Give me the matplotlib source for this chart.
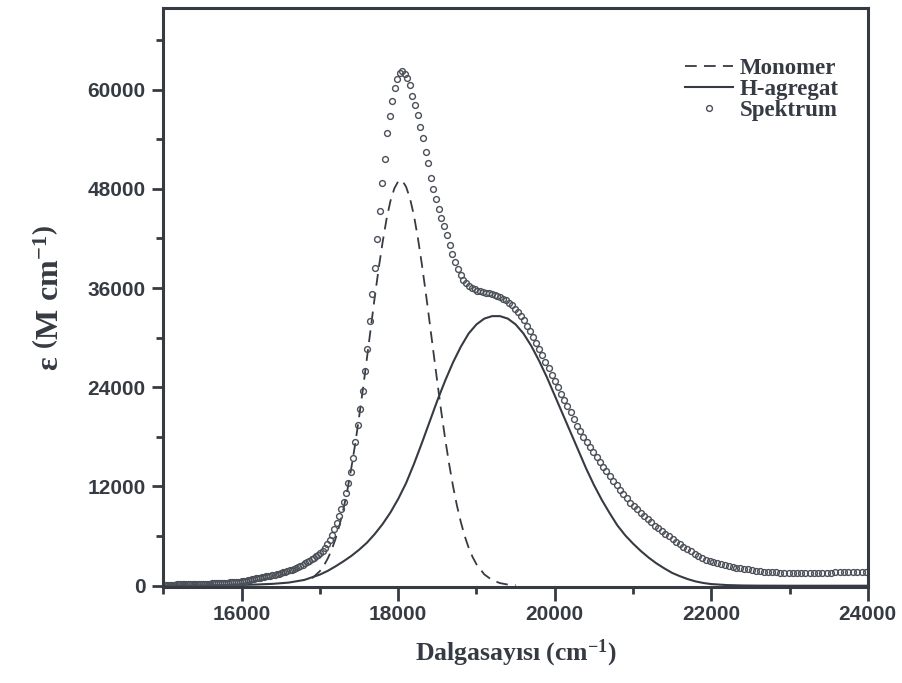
import numpy as np
import matplotlib.pyplot as plt
from matplotlib.ticker import MultipleLocator

# mathtext in bold serif so the axis labels look like the scan
plt.rcParams['mathtext.fontset'] = 'custom'
plt.rcParams['mathtext.rm'] = 'Liberation Serif:bold'
plt.rcParams['mathtext.it'] = 'Liberation Serif:bold'
plt.rcParams['mathtext.bf'] = 'Liberation Serif:bold'

# measured spectrum, 1 nm steps (417 .. 666 nm)
spektrum_nm = np.arange(417, 667)
spektrum_eps = [
    1700, 1680, 1665, 1650, 1640, 1625, 1610, 1600, 1590, 1575,   # 417
    1565, 1560, 1555, 1550, 1550, 1550, 1555, 1560, 1565, 1580,   # 427
    1595, 1610, 1640, 1670, 1710, 1760, 1840, 1900, 1970, 2050,   # 437
    2120, 2190, 2260, 2330, 2450, 2600, 2740, 2880, 3000, 3150,   # 447
    3380, 3620, 3880, 4150, 4450, 4730, 5010, 5340, 5670, 5990,   # 457
    6310, 6620, 6950, 7280, 7650, 8020, 8420, 8830, 9240, 9650,   # 467
    10060, 10550, 11080, 11600, 12120, 12690, 13250, 13820, 14340, 14940,  # 477
    15520, 16120, 16750, 17380, 18030, 18700, 19360, 20120, 20960, 21740,  # 487
    22500, 23240, 23990, 24700, 25500, 26300, 27080, 27870, 28660, 29380,  # 497
    30060, 30760, 31460, 32160, 32620, 33060, 33520, 33900, 34240, 34510,  # 507
    34720, 34920, 35050, 35190, 35310, 35370, 35420, 35480, 35580, 35670,  # 517
    35830, 36050, 36280, 36570, 37020, 37560, 38330, 39200, 40140, 41190,  # 527
    42400, 43510, 44480, 45520, 46810, 48030, 49340, 51120, 52420, 54080,  # 537
    55520, 56870, 58160, 59240, 60530, 61390, 61930, 62200, 61940, 61320,  # 547
    60200, 58600, 56800, 54700, 51650, 48700, 45270, 41900, 38400, 35300,  # 557
    32070, 28600, 26000, 23600, 21400, 19400, 17400, 15400, 13800, 12400,  # 567
    11200, 10100, 9290, 8450, 7640, 6890, 6150, 5550, 5000, 4560,   # 577
    4200, 3920, 3700, 3540, 3370, 3190, 3020, 2850, 2690, 2520,   # 587
    2350, 2250, 2150, 2060, 1960, 1870, 1780, 1690, 1600, 1510,   # 597
    1450, 1390, 1340, 1290, 1230, 1180, 1130, 1080, 1020, 970,    # 607
    930, 880, 830, 780, 730, 680, 630, 580, 520, 500,             # 617
    480, 455, 435, 420, 400, 385, 370, 350, 330, 320,             # 627
    305, 295, 285, 275, 265, 255, 245, 235, 225, 220,             # 637
    215, 210, 200, 195, 190, 185, 180, 175, 170, 165,             # 647
    160, 155, 150, 145, 140, 135, 130, 125, 122, 120,             # 657
]

# monomer band (dashed)
monomer_nu = [16900, 17000, 17050, 17100, 17150, 17200, 17250, 17300, 17350, 17400,
              17450, 17500, 17550, 17600, 17650, 17700, 17750, 17800, 17850, 17900,
              17950, 18000, 18050, 18100, 18150, 18200, 18250, 18300, 18350, 18400,
              18450, 18500, 18550, 18600, 18650, 18700, 18750, 18800, 18850, 18900,
              18950, 19000, 19100, 19200, 19300, 19400, 19500]
monomer_eps = [900, 1780, 2440, 3290, 4360, 5700, 7330, 9270, 11550, 14200,
               17130, 20400, 23850, 27500, 31200, 34900, 38350, 41500, 44300, 46500,
               48030, 48900, 49000, 48250, 46850, 44800, 42130, 39000, 35580, 31950,
               28240, 24600, 21050, 17750, 14750, 12050, 9700, 7700, 5990, 4600,
               3480, 2590, 1370, 680, 317, 140, 60]

# H-aggregate band (solid)
hagg_nu = [15000, 15500, 16000, 16200, 16400, 16600, 16800, 17000, 17100, 17200,
           17300, 17400, 17500, 17600, 17700, 17800, 17900, 18000, 18100, 18200,
           18300, 18400, 18500, 18600, 18700, 18800, 18900, 19000, 19100, 19200,
           19300, 19400, 19500, 19600, 19700, 19800, 19900, 20000, 20100, 20200,
           20300, 20400, 20500, 20600, 20700, 20800, 20900, 21000, 21100, 21200,
           21300, 21400, 21500, 21600, 21700, 21800, 21900, 22000, 22200, 22400,
           22600, 23000, 24000]
hagg_eps = [20, 40, 100, 150, 230, 380, 700, 1350, 1800, 2350,
            2950, 3600, 4350, 5200, 6250, 7450, 8850, 10500, 12400, 14700,
            17200, 19800, 22400, 24800, 27000, 28900, 30500, 31600, 32300, 32600,
            32600, 32300, 31600, 30500, 29000, 27200, 25200, 23000, 20800, 18600,
            16400, 14200, 12200, 10400, 8800, 7300, 6100, 5100, 4200, 3400,
            2700, 2100, 1550, 1150, 800, 520, 330, 200, 80, 30,
            10, 0, 0]

ink = '#363b43'
tick_font = {'family': 'Liberation Sans', 'weight': 'bold', 'size': 15}

fig = plt.figure(figsize=(9.03, 6.83), dpi=100)
ax = fig.add_axes([0.181, 0.1406, 0.780, 0.847])

ax.plot(monomer_nu, monomer_eps, color=ink, lw=1.3, dashes=(6.5, 4), label='Monomer')
ax.plot(hagg_nu, hagg_eps, color=ink, lw=1.5, label='H-agregat')
ax.plot(1e7 / spektrum_nm, spektrum_eps, ls='none', marker='o', ms=4.2,
        mfc='none', mec='#4b5058', mew=1.0, label='Spektrum')

ax.set_xlim(15000, 24000)
ax.set_ylim(-150, 69800)
ax.xaxis.set_major_locator(MultipleLocator(2000))
ax.xaxis.set_minor_locator(MultipleLocator(1000))
ax.yaxis.set_major_locator(MultipleLocator(12000))
ax.yaxis.set_minor_locator(MultipleLocator(6000))

for s in ax.spines.values():
    s.set_linewidth(2.2)
    s.set_color(ink)
ax.tick_params(which='both', direction='out', color=ink, width=2)
ax.tick_params(which='major', length=8, pad=5)
ax.tick_params(which='minor', length=5)
ax.tick_params(axis='x', which='major', length=10, pad=3)
for lab in ax.get_xticklabels() + ax.get_yticklabels():
    lab.set_fontproperties(tick_font)
    lab.set_color(ink)

ax.set_xlabel('Dalgasayısı (cm$^{-1}$)', family='Liberation Serif', weight='bold',
              fontsize=18.5, color=ink, labelpad=10)
ax.set_ylabel(r'$\varepsilon\ \left(\mathrm{M\ cm^{-1}}\right)$', fontsize=23,
              color=ink, labelpad=16)

leg = ax.legend(loc='upper right', bbox_to_anchor=(0.988, 0.95), frameon=False,
                numpoints=1, handlelength=2.1, handletextpad=0.3, labelspacing=0.0,
                prop={'family': 'Liberation Serif', 'weight': 'bold', 'size': 16.5})
for t in leg.get_texts():
    t.set_color(ink)

fig.savefig('out.png', dpi=100)
